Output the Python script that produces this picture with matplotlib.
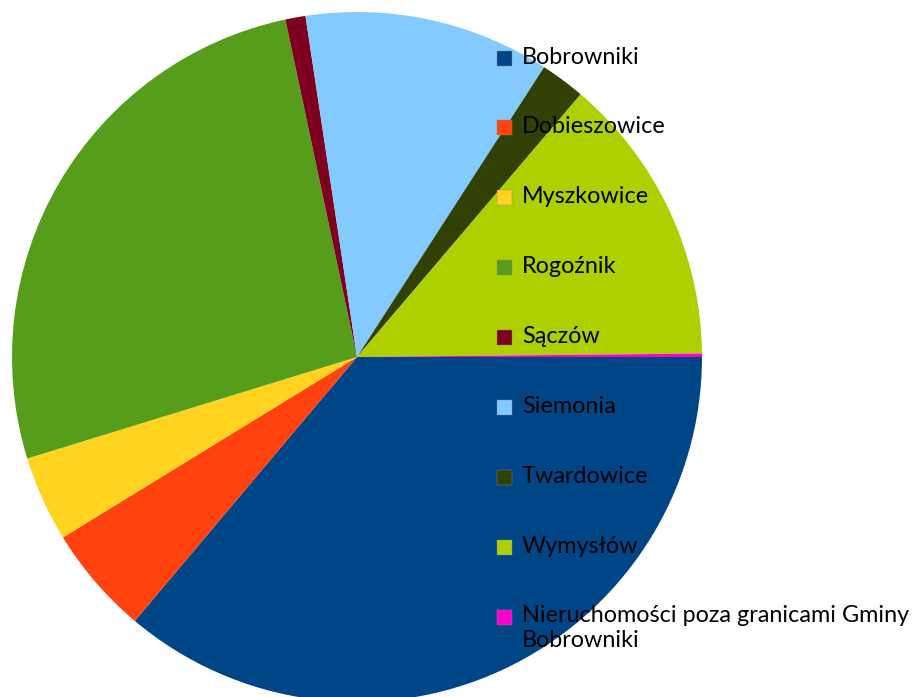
import matplotlib.pyplot as plt
from matplotlib.patches import Rectangle

# Udziały procentowe
labels = ['Bobrowniki', 'Dobieszowice', 'Myszkowice', 'Rogoźnik', 'Sączów',
          'Siemonia', 'Twardowice', 'Wymysłów',
          'Nieruchomości poza granicami Gminy\nBobrowniki']
values = [36.1, 5.1, 4.0, 26.4, 0.94, 11.5, 2.1, 13.6, 0.16]
colors = ['#004586', '#ff420e', '#ffd320', '#579d1c', '#7e0021',
          '#83caff', '#314004', '#aecf00', '#ff00cc']

W, H = 919, 697
fig = plt.figure(figsize=(W / 100, H / 100), dpi=100)
ax = fig.add_axes([0, 0, 1, 1])

# kolo w pikselach: srodek (357, 357 od gory), promien 345
ax.pie(values, colors=colors, center=(357, H - 357), radius=345,
       startangle=0, counterclock=False,
       wedgeprops=dict(linewidth=0))

# legenda rysowana recznie
for i, (lab, col) in enumerate(zip(labels, colors)):
    y = H - (58 + 69.9 * i)
    ax.add_patch(Rectangle((497, y - 7.5), 15, 15, facecolor=col,
                           edgecolor='#888888', linewidth=0.3, zorder=5))
    if '\n' in lab:
        ax.text(522, y + 12, lab, fontsize=16.8, family='Lato', color='black',
                va='top', ha='left', zorder=5, linespacing=1.25)
    else:
        ax.text(522, y + 1, lab, fontsize=16.8, family='Lato', color='black',
                va='center', ha='left', zorder=5)

ax.set_xlim(0, W)
ax.set_ylim(0, H)
ax.set_aspect('auto')
ax.axis('off')

fig.savefig('out.png', dpi=100)
